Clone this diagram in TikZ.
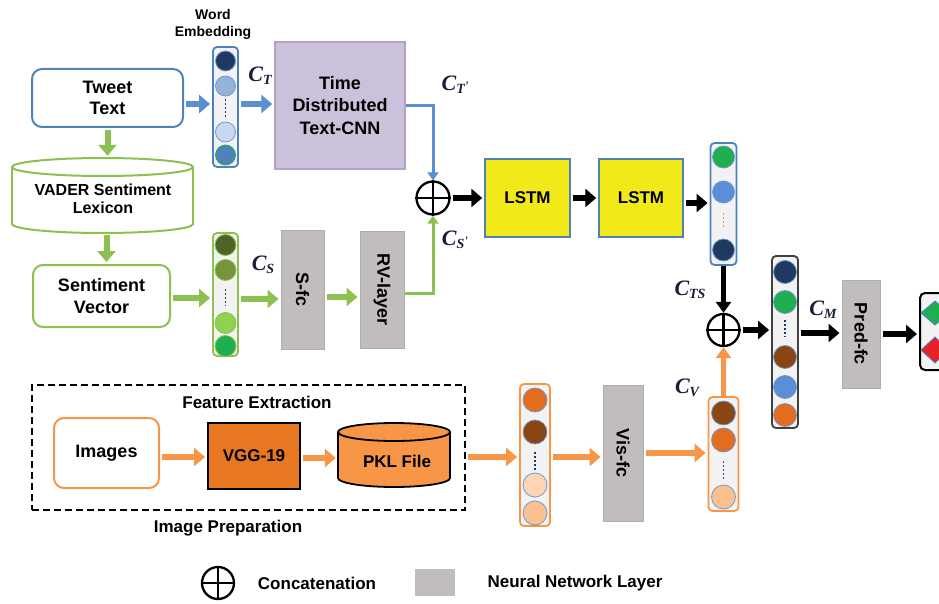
\documentclass[tikz,border=0pt]{standalone}
\usepackage{fontspec}
\setmainfont{Liberation Sans}
\newfontfamily\mfont{Liberation Serif}
\usetikzlibrary{arrows.meta,calc}
\definecolor{tblue}{HTML}{4F81BD}
\definecolor{ablue}{HTML}{5B8FD0}
\definecolor{lgreen}{HTML}{8CC152}
\definecolor{orng}{HTML}{F79646}
\definecolor{vggc}{HTML}{E87722}
\definecolor{lav}{HTML}{CCC1DA}
\definecolor{lavb}{HTML}{B3A2C7}
\definecolor{ylw}{HTML}{F2EA18}
\definecolor{nng}{HTML}{C1BDBD}
\definecolor{nngb}{HTML}{B0ADAD}
\definecolor{navy}{HTML}{1F3A60}
\definecolor{lblA}{HTML}{95B3D7}
\definecolor{lblB}{HTML}{C6D9F0}
\definecolor{mblue}{HTML}{5B8ED6}
\definecolor{cgreen}{HTML}{1FAF50}
\definecolor{dolive}{HTML}{4F6228}
\definecolor{olive}{HTML}{77933C}
\definecolor{lgr}{HTML}{92D050}
\definecolor{cbrown}{HTML}{8B4513}
\definecolor{dorng}{HTML}{E36C1E}
\definecolor{peachA}{HTML}{FCD5B4}
\definecolor{peachB}{HTML}{FAC08F}
\definecolor{cred}{HTML}{E8202A}
\definecolor{mathc}{HTML}{1B1B3A}
\definecolor{vecbg}{HTML}{F2F2F2}
\definecolor{purp}{HTML}{7030A0}
\newcommand{\clab}[1]{{\mfont\bfseries\itshape C\raisebox{-0.3ex}{\fontsize{14}{14}\selectfont #1}}}
\newcommand{\prm}{\raisebox{0.55ex}{\fontsize{13}{13}\selectfont '}}
\begin{document}
\begin{tikzpicture}[x=1pt,y=-1pt,
  lbl/.style={font=\bfseries\fontsize{18}{21}\selectfont, text=black, align=center},
  lbls/.style={font=\bfseries\fontsize{17}{20}\selectfont, text=black, align=center},
  mlbl/.style={font=\fontsize{22}{24}\selectfont, text=mathc, inner sep=1pt},
  rbox/.style={rectangle, rounded corners=10pt, line width=2pt, fill=white, lbl},
  vecbox/.style={rectangle, rounded corners=4pt, fill=vecbg, line width=1.8pt, inner sep=0pt},
  dotc/.style={circle, inner sep=0pt, draw=tblue!80, line width=0.8pt},
  vdotsl/.style={dash pattern=on 2pt off 2pt, line width=1.9pt},
  nnbox/.style={rectangle, fill=nng, draw=nngb, line width=1pt, inner sep=0pt},
  fatarrow/.style={line width=6pt, -{Triangle[length=11pt,width=18pt]}, shorten <=2pt, shorten >=2pt},
  thinarrow/.style={line width=3pt, -{Triangle[length=8pt,width=11pt]}},
  concat/.style={circle, draw=black, line width=2.3pt, minimum size=33pt, inner sep=0pt, fill=white},
  crossl/.style={line width=2.3pt, black}
]
\useasboundingbox (0,0) rectangle (939,604);

% ---------- text branch ----------
\node[font=\bfseries\fontsize{14}{17}\selectfont, align=center] (wlab) at (213,24) {Word\\Embedding};
\node[rbox, draw=tblue, minimum width=151pt, minimum height=58pt] (tweet) at (107.5,98) {Tweet\\Text};

\node[vecbox, draw=tblue, minimum width=25pt, minimum height=120pt] (we) at (225.5,107) {};
\node[dotc, fill=navy, minimum size=20pt] (we1) at (225.5,61) {};
\node[dotc, fill=lblA, minimum size=20pt] (we2) at (225.5,86) {};
\draw[vdotsl, navy] (225.5,99) -- (225.5,118);
\node[dotc, fill=lblB, minimum size=20pt] (we3) at (225.5,132) {};
\node[dotc, fill=tblue, draw=cgreen, minimum size=20pt] (we4) at (225.5,155) {};

\node[rectangle, fill=lav, draw=lavb, line width=1.5pt, minimum width=130pt, minimum height=127pt, font=\bfseries\fontsize{18}{22.5}\selectfont, align=center] (cnn) at (340,105.5) {Time\\Distributed\\Text-CNN};

\node[concat] (o1) at (433,198) {};
\draw[crossl] (o1.north) -- (o1.south) (o1.west) -- (o1.east);

\node[rectangle, fill=ylw, draw=tblue, line width=1.5pt, minimum width=85pt, minimum height=78pt, font=\bfseries\fontsize{17}{20}\selectfont] (lstm1) at (527.5,198) {LSTM};
\node[rectangle, fill=ylw, draw=tblue, line width=1.5pt, minimum width=84pt, minimum height=78pt, font=\bfseries\fontsize{17}{20}\selectfont] (lstm2) at (641,198) {LSTM};

\node[vecbox, draw=tblue, minimum width=26pt, minimum height=122pt] (ts) at (723.5,204) {};
\node[dotc, fill=cgreen, minimum size=22pt] (ts1) at (723.5,157) {};
\node[dotc, fill=mblue, minimum size=22pt] (ts2) at (723.5,192) {};
\draw[vdotsl, orng] (723.5,213) -- (723.5,229);
\node[dotc, fill=navy, minimum size=22pt] (ts3) at (723.5,250) {};

\node[concat, minimum size=32pt] (o2) at (723.5,330) {};
\draw[crossl] (o2.north) -- (o2.south) (o2.west) -- (o2.east);

\node[vecbox, draw=orng, minimum width=30pt, minimum height=114pt] (cv) at (723.5,454) {};
\node[dotc, fill=cbrown, minimum size=24pt] (cv1) at (723.5,413) {};
\node[dotc, fill=dorng, minimum size=24pt] (cv2) at (723.5,440) {};
\draw[vdotsl, purp] (723.5,461) -- (723.5,480);
\node[dotc, fill=peachB, minimum size=24pt] (cv3) at (723.5,497) {};

\node[vecbox, draw=black!75, minimum width=26pt, minimum height=172pt] (mv) at (785,342) {};
\node[dotc, fill=navy, minimum size=23pt] (mv1) at (785,272) {};
\node[dotc, fill=cgreen, minimum size=23pt] (mv2) at (785,302) {};
\draw[vdotsl, navy] (785,320) -- (785,337);
\node[dotc, fill=cbrown, minimum size=23pt] (mv3) at (785,357) {};
\node[dotc, fill=mblue, minimum size=23pt] (mv4) at (785,387) {};
\node[dotc, fill=dorng, minimum size=23pt] (mv5) at (785,415) {};

\node[nnbox, minimum width=38pt, minimum height=108pt] (pred) at (861,334) {};
\node[lbl, rotate=-90] (predt) at (pred) {Pred-fc};

\begin{scope}
\clip (0,0) rectangle (939,604);
\node[rectangle, rounded corners=5pt, draw=black, line width=2pt, fill=vecbg, minimum width=44pt, minimum height=77pt] (out) at (942,331.5) {};
\filldraw[fill=cgreen, draw=tblue, line width=0.8pt] (921,313) -- (935,301) -- (949,313) -- (935,325) -- cycle;
\filldraw[fill=cred, draw=tblue, line width=0.8pt] (921,350) -- (935,337) -- (949,350) -- (935,363) -- cycle;
\end{scope}

% ---------- sentiment branch ----------
\draw[lgreen, line width=2pt, fill=white] (102.5,224) ellipse [x radius=90.5, y radius=9];
\fill[white] (12,167) rectangle (193,224);
\draw[lgreen, line width=2pt] (12,167) -- (12,224) (193,167) -- (193,224);
\draw[lgreen, line width=2pt, fill=white] (102.5,167) ellipse [x radius=90.5, y radius=9];
\node[minimum width=181pt, minimum height=75pt, inner sep=0pt] (vader) at (102.5,195.5) {};
\node[font=\bfseries\fontsize{16}{18.5}\selectfont, align=center] (vadert) at (103,199) {VADER Sentiment\\Lexicon};

\node[rbox, draw=lgreen, minimum width=137pt, minimum height=62pt, font=\bfseries\fontsize{18}{22}\selectfont] (sv) at (101.5,296) {Sentiment\\Vector};

\node[vecbox, draw=lgreen, minimum width=25pt, minimum height=123pt] (gv) at (225.5,294.5) {};
\node[dotc, fill=dolive, draw=lgreen, minimum size=21pt] (gv1) at (225.5,245) {};
\node[dotc, fill=olive, draw=lgreen, minimum size=21pt] (gv2) at (225.5,270) {};
\draw[vdotsl, black!80] (225.5,289) -- (225.5,306);
\node[dotc, fill=lgr, draw=lgreen, minimum size=21pt] (gv3) at (225.5,323) {};
\node[dotc, fill=cgreen, draw=lgreen, minimum size=21pt] (gv4) at (225.5,346) {};

\node[nnbox, minimum width=43pt, minimum height=119pt] (sfc) at (302.5,289.5) {};
\node[lbl, rotate=-90] (sfct) at (sfc) {S-fc};
\node[nnbox, minimum width=44pt, minimum height=117pt] (rv) at (382,289.5) {};
\node[lbl, rotate=-90] (rvt) at (rv) {RV-layer};

% ---------- image branch ----------
\node[draw=black, dash pattern=on 7pt off 4pt, line width=1.8pt, minimum width=433pt, minimum height=125pt] (prep) at (248.5,447.5) {};
\node[lbls] (fe) at (257,402) {Feature Extraction};
\node[lbls] (ip) at (228,528) {Image Preparation};
\node[rbox, draw=orng, minimum width=105pt, minimum height=70pt] (images) at (106.5,453) {Images};
\node[rectangle, fill=vggc, draw=black, line width=2pt, minimum width=92pt, minimum height=66pt, lbls] (vgg) at (254,456) {VGG-19};

\draw[black, line width=1.8pt, fill=orng] (394,478) ellipse [x radius=56, y radius=9];
\fill[orng] (338,432) rectangle (450,478);
\draw[black, line width=1.8pt] (338,432) -- (338,478) (450,432) -- (450,478);
\draw[black, line width=1.8pt, fill=orng] (394,432) ellipse [x radius=56, y radius=9];
\node[minimum width=112pt, minimum height=64pt, inner sep=0pt] (pkl) at (394,455) {};
\node[lbls] (pklt) at (397,461) {PKL File};

\node[vecbox, draw=orng, minimum width=30pt, minimum height=142pt] (ov) at (535,455) {};
\node[dotc, fill=dorng, minimum size=24pt] (ov1) at (535,400) {};
\node[dotc, fill=cbrown, minimum size=24pt] (ov2) at (535,432) {};
\draw[vdotsl, navy] (535,452) -- (535,470);
\node[dotc, fill=peachA, minimum size=24pt] (ov3) at (535,485) {};
\node[dotc, fill=peachB, minimum size=24pt] (ov4) at (535,513) {};

\node[nnbox, minimum width=40pt, minimum height=136pt] (vis) at (623,453) {};
\node[lbl, rotate=-90] (vist) at (vis) {Vis-fc};

% ---------- labels ----------
\node[mlbl] (lct) at (260,76) {\clab{T}};
\node[mlbl] (lctp) at (455,85) {\clab{T\prm}};
\node[mlbl] (lcsp) at (455,240) {\clab{S\prm}};
\node[mlbl] (lcs) at (263,265) {\clab{S}};
\node[mlbl] (lcts) at (690,290) {\clab{TS}};
\node[mlbl] (lcv) at (687,388) {\clab{V}};
\node[mlbl] (lcm) at (823,310) {\clab{M}};

% ---------- connectors ----------
\draw[fatarrow, ablue] ([yshift=-6pt]tweet.east) -- ([yshift=-6pt]tweet.east -| we.west);
\draw[fatarrow, ablue] ([yshift=3pt]we.east) -- ([yshift=3pt]we.east -| cnn.west);
\draw[thinarrow, ablue] (cnn.east) -| (o1.north);

\draw[fatarrow, lgreen] (tweet.south) -- (tweet.south |- vader.north);
\draw[fatarrow, lgreen] ([xshift=4pt]vader.south) -- ([xshift=4pt]vader.south |- sv.north);
\draw[fatarrow, lgreen] ([yshift=-2pt]sv.east) -- ([yshift=-2pt]sv.east -| gv.west);
\draw[fatarrow, lgreen] ([yshift=-4.5pt]gv.east) -- ([yshift=-4.5pt]gv.east -| sfc.west);
\draw[fatarrow, lgreen] ([yshift=-7.5pt]sfc.east) -- ([yshift=-7.5pt]sfc.east -| rv.west);
\draw[thinarrow, lgreen] ([yshift=-3.5pt]rv.east) -| (o1.south);

\draw[fatarrow, black] (o1.east) -- (lstm1.west);
\draw[fatarrow, black] (lstm1.east) -- (lstm2.west);
\draw[fatarrow, black] ([yshift=-5pt]lstm2.east) -- ([yshift=-5pt]lstm2.east -| ts.west);
\draw[line width=4.5pt, black, -{Triangle[length=11pt,width=15pt]}] (ts.south) -- (o2.north);
\draw[line width=4.5pt, orng, -{Triangle[length=11pt,width=15pt]}] (cv.north) -- (o2.south);
\draw[fatarrow, black] (o2.east) -- (o2.east -| mv.west);
\draw[fatarrow, black] ([yshift=9pt]mv.east) -- ([yshift=9pt]mv.east -| pred.west);
\draw[fatarrow, black] (pred.east) -- (pred.east -| out.west);

\draw[fatarrow, orng] ([yshift=-4pt]images.east) -- ([yshift=-4pt]images.east -| vgg.west);
\draw[fatarrow, orng] ([yshift=-2pt]vgg.east) -- ([yshift=-2pt]vgg.east -| pkl.west);
\draw[fatarrow, orng] ([yshift=-9.5pt]prep.east) -- ([yshift=-9.5pt]prep.east -| ov.west);
\draw[fatarrow, orng] ([yshift=-2pt]ov.east) -- ([yshift=-2pt]ov.east -| vis.west);
\draw[fatarrow, orng] (vis.east) -- (vis.east -| cv.west);

% ---------- legend ----------
\node[concat, minimum size=32pt] (lo) at (218,583) {};
\draw[crossl] (lo.north) -- (lo.south) (lo.west) -- (lo.east);
\node[lbls] (lc) at (317,583) {Concatenation};
\node[nnbox, draw=none, minimum width=40pt, minimum height=27pt] (lsq) at (435,582.5) {};
\node[lbls] (ln) at (575,583) {Neural Network Layer};
\end{tikzpicture}
\end{document}
